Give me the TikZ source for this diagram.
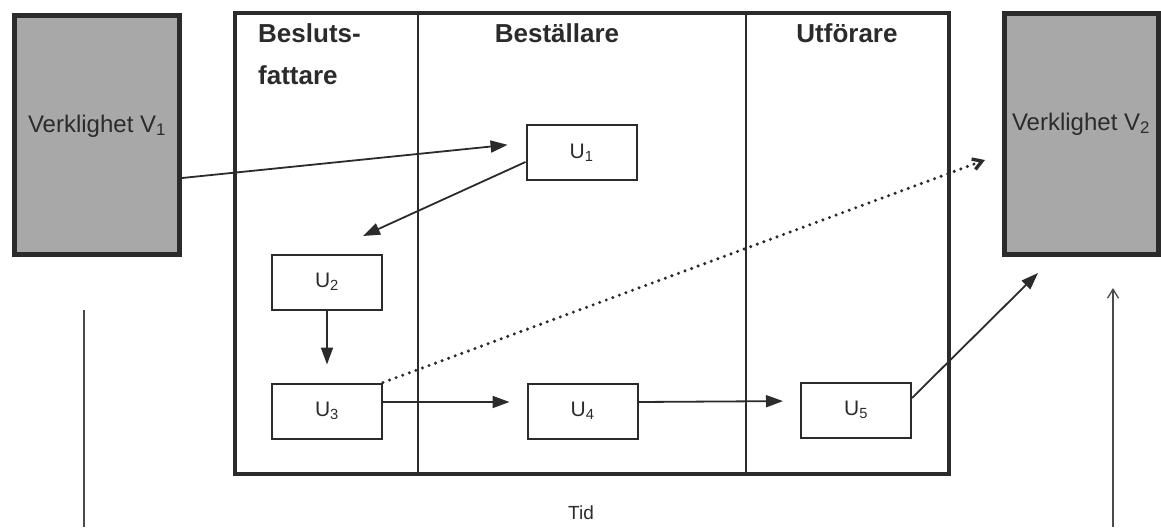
\documentclass[tikz,border=0pt]{standalone}
\usepackage{fontspec}
\setmainfont{Liberation Sans}
\usetikzlibrary{arrows.meta}
\definecolor{ink}{HTML}{2B2B2B}
\definecolor{halftone}{HTML}{A8A8A8}
\tikzset{
  ubox/.style={draw=ink, line width=2pt, minimum width=110pt, minimum height=55pt, inner sep=0pt, font=\fontsize{21}{23}\selectfont, text=ink},
  vbox/.style={draw=ink, line width=5pt, fill=halftone, inner sep=0pt},
  vtext/.style={font=\fontsize{24}{26}\selectfont, text=ink, anchor=base, inner sep=0pt},
  head/.style={font=\fontsize{26}{28}\selectfont\bfseries, text=ink, inner sep=0pt},
  conn/.style={draw=ink, line width=1.8pt},
  fat/.style={-{Triangle[length=17pt,width=12pt]}},
  barb/.style={-{Straight Barb[length=9pt,width=11pt]}},
}
\begin{document}
\begin{tikzpicture}[x=1pt, y=-1pt]
\useasboundingbox (0,0) rectangle (1161,527);
% reality boxes
\node[vbox, minimum width=165pt, minimum height=239pt] (V1) at (97,135) {};
\node[vtext] (V1t) at (97,132) {Verklighet V\textsubscript{1}};
\node[vbox, minimum width=154pt, minimum height=241pt] (V2) at (1081.5,134) {};
\node[vtext] (V2t) at (1081,130) {Verklighet V\textsubscript{2}};
% main frame
\draw[draw=ink, line width=4.5pt] (235,13) rectangle (949,474);
\coordinate (c1t) at (418,13); \coordinate (c1b) at (418,474);
\coordinate (c2t) at (746,13); \coordinate (c2b) at (746,474);
\draw[draw=ink, line width=2.2pt] (c1t) -- (c1b);
\draw[draw=ink, line width=2.5pt] (c2t) -- (c2b);
% headers
\node[head, anchor=base west] (h1) at (258,42) {Besluts-};
\node[head, anchor=base west] (h1b) at (258,84) {fattare};
\node[head, anchor=base] (h2) at (557,42) {Beställare};
\node[head, anchor=base] (h3) at (847,42) {Utförare};
% U boxes
\node[ubox] (U1) at (581.5,152.5) {U\textsubscript{1}};
\node[ubox] (U2) at (327,282) {U\textsubscript{2}};
\node[ubox] (U3) at (327,411) {U\textsubscript{3}};
\node[ubox] (U4) at (582.5,411) {U\textsubscript{4}};
\node[ubox] (U5) at (856,410) {U\textsubscript{5}};
% free ends
\coordinate (e1) at (363,236);
\coordinate (e2) at (1038,273);
\coordinate (e3) at (985,160);
\coordinate (tl1) at (84,310);
\coordinate (tl2) at (84,527);
\coordinate (tr1) at (1113,527);
\coordinate (tr2) at (1113,288);
% connectors
\draw[conn, fat, shorten >=18pt] ([yshift=-43pt]V1.east) -- ([yshift=9.5pt]U1.west);
\draw[conn, fat] ([yshift=-9.5pt]U1.west) -- (e1);
\draw[conn, fat, shorten >=18pt] (U2.south) -- (U3.north);
\draw[conn, fat, shorten >=17pt] ([yshift=9pt]U3.east) -- ([yshift=9pt]U4.west);
\draw[conn, fat, shorten >=17pt] ([yshift=9pt]U4.east) -- ([yshift=9pt]U5.west);
\draw[conn, fat] ([yshift=12pt]U5.east) -- (e2);
\draw[draw=ink, line width=3.4pt, line cap=round, dash pattern=on 0pt off 7pt, barb] (U3.north east) -- (e3);
\draw[draw=ink!85, line width=1.3pt] (tl1) -- (tl2);
\draw[draw=ink!85, line width=1.3pt, barb] (tr1) -- (tr2);
% time label
\node[font=\fontsize{19}{21}\selectfont, text=ink, inner sep=0pt] (tid) at (581,513) {Tid};
\end{tikzpicture}
\end{document}
